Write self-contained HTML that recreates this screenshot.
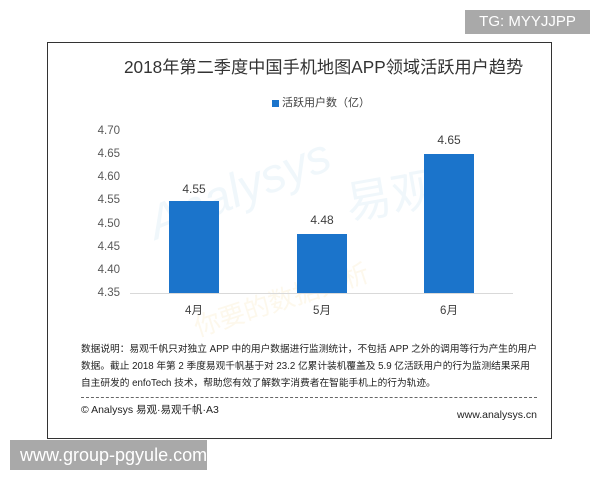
<!DOCTYPE html>
<html>
<head>
<meta charset="utf-8">
<style>
  html,body{margin:0;padding:0;background:#fff;}
  body{width:600px;height:480px;position:relative;overflow:hidden;font-family:"Liberation Sans","Noto Sans CJK SC",sans-serif;}
  .abs{position:absolute;white-space:nowrap;}
  .frame{position:absolute;left:47px;top:42px;width:503px;height:395px;border:1.5px solid #333;box-sizing:content-box;}
  .badge{position:absolute;background:#a9a9a9;color:#fff;}
  .ylab{position:absolute;left:80px;width:40px;text-align:right;font-size:11.5px;color:#595959;line-height:12px;}
  .bar{position:absolute;background:#1b74cb;}
  .val{position:absolute;width:60px;text-align:center;font-size:12px;color:#404040;line-height:14px;}
  .cat{position:absolute;width:60px;text-align:center;font-size:11.5px;color:#404040;line-height:14px;}
  .note{position:absolute;left:81px;font-size:9.7px;color:#222;line-height:17px;white-space:nowrap;}
</style>
</head>
<body>
<div class="badge" style="left:465px;top:10px;width:125px;height:24px;font-size:15px;line-height:24px;text-align:center;">TG: MYYJJPP</div>

<div class="frame"></div>

<!-- watermark -->
<div class="abs" style="left:140px;top:200px;font-size:48px;color:#f0f7fb;transform:rotate(-22deg);transform-origin:left top;font-style:italic;">Analysys</div>
<div class="abs" style="left:345px;top:160px;font-size:46px;color:#f0f7fb;transform:rotate(-10deg);">易观</div>
<div class="abs" style="left:190px;top:280px;font-size:26px;color:#fdf8ec;transform:rotate(-18deg);">你要的数据分析</div>

<div class="abs" style="left:124px;top:56px;font-size:17.2px;color:#333;line-height:22px;">2018年第二季度中国手机地图APP领域活跃用户趋势</div>

<div class="abs" style="left:272px;top:100px;width:7px;height:7px;background:#1b74cb;"></div>
<div class="abs" style="left:282px;top:96px;font-size:11px;color:#404040;line-height:14px;">活跃用户数（亿）</div>

<div class="ylab" style="top:125px;">4.70</div>
<div class="ylab" style="top:148px;">4.65</div>
<div class="ylab" style="top:171px;">4.60</div>
<div class="ylab" style="top:194px;">4.55</div>
<div class="ylab" style="top:218px;">4.50</div>
<div class="ylab" style="top:241px;">4.45</div>
<div class="ylab" style="top:264px;">4.40</div>
<div class="ylab" style="top:287px;">4.35</div>

<div class="abs" style="left:130px;top:293px;width:383px;height:1px;background:#d9d9d9;"></div>

<div class="bar" style="left:169px;top:201px;width:50px;height:92px;"></div>
<div class="bar" style="left:297px;top:234px;width:50px;height:59px;"></div>
<div class="bar" style="left:424px;top:154px;width:50px;height:139px;"></div>

<div class="val" style="left:164px;top:182px;">4.55</div>
<div class="val" style="left:292px;top:213px;">4.48</div>
<div class="val" style="left:419px;top:133px;">4.65</div>

<div class="cat" style="left:164px;top:304px;">4月</div>
<div class="cat" style="left:292px;top:304px;">5月</div>
<div class="cat" style="left:419px;top:304px;">6月</div>

<div class="note" style="top:341px;">数据说明：易观千帆只对独立 APP 中的用户数据进行监测统计，不包括 APP 之外的调用等行为产生的用户</div>
<div class="note" style="top:358px;">数据。截止 2018 年第 2 季度易观千帆基于对 23.2 亿累计装机覆盖及 5.9 亿活跃用户的行为监测结果采用</div>
<div class="note" style="top:375px;">自主研发的 enfoTech 技术，帮助您有效了解数字消费者在智能手机上的行为轨迹。</div>

<div class="abs" style="left:81px;top:397px;width:456px;height:0;border-top:1px dashed #666;"></div>

<div class="abs" style="left:81px;top:403px;font-size:10.5px;color:#222;line-height:14px;">© Analysys 易观·易观千帆·A3</div>
<div class="abs" style="left:437px;top:408px;width:100px;text-align:right;font-size:10.5px;color:#222;line-height:14px;">www.analysys.cn</div>

<div class="badge" style="left:10px;top:440px;width:197px;height:30px;font-size:18px;line-height:30px;text-align:left;"><span style="position:relative;left:10px;">www.group-pgyule.com</span></div>
</body>
</html>
